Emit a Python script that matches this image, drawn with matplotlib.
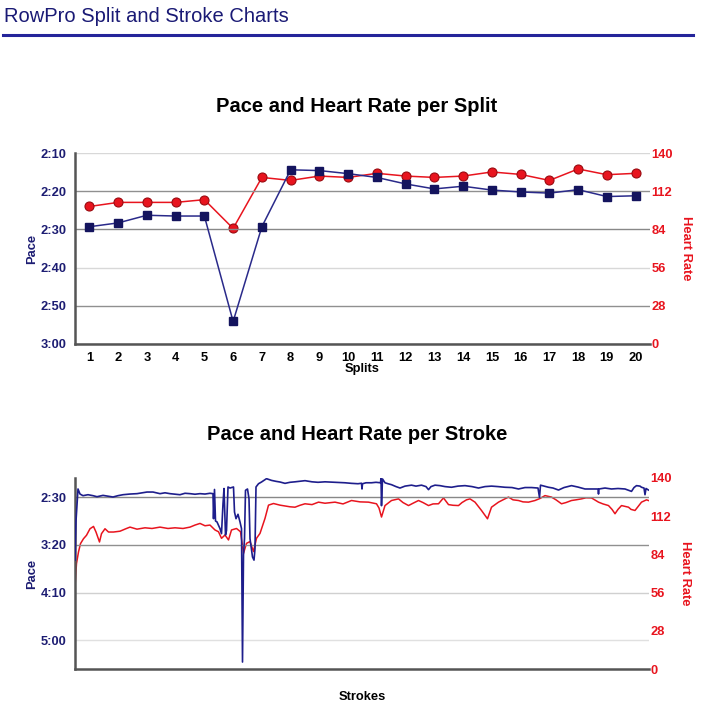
import matplotlib
matplotlib.use("Agg")
import matplotlib.pyplot as plt
from matplotlib.lines import Line2D

plt.rcParams['font.family'] = ['Liberation Sans', 'DejaVu Sans']

NAVY = '#1c1c72'
RED = '#e8141e'
HEAD = '#1a1a75'

# ---------------- data: splits ----------------
splits = list(range(1, 21))
split_pace = [149.3, 148.3, 146.3, 146.5, 146.5, 174.1, 149.3, 134.4, 134.6, 135.4,
              136.4, 138.1, 139.4, 138.7, 139.7, 140.2, 140.5, 139.6, 141.4, 141.2]
split_hr = [100.8, 103.8, 103.8, 103.8, 105.8, 84.7, 122.1, 119.9, 123.1, 122.1,
            125.1, 123.1, 122.1, 123.1, 126.1, 124.3, 119.9, 128.3, 124.1, 125.1]
split_pace_ticks = [130, 140, 150, 160, 170, 180]
split_pace_labels = ['2:10', '2:20', '2:30', '2:40', '2:50', '3:00']
hr_ticks = [0, 28, 56, 84, 112, 140]

# ---------------- data: strokes ----------------
stroke_pace_x = [0, 2, 6, 10, 16, 26, 36, 44, 56, 66, 76, 86, 96, 110, 124, 134, 144, 156, 170, 180,
                 190, 200, 210, 220, 230, 240, 250, 260, 270, 276, 277, 279, 281, 284, 290, 293, 296, 298,
                 301, 303, 306, 310, 317, 319, 322, 326, 330, 333, 335, 337, 339, 341, 345, 348, 350, 355,
                 358, 360, 362, 367, 373, 383, 393, 402, 410, 420, 430, 440, 460, 474, 486, 500, 520, 540,
                 553, 566, 573, 574, 575, 582, 593, 602, 611, 612, 613, 615, 620, 626, 633, 642, 650, 660,
                 673, 682, 693, 702, 707, 712, 720, 730, 740, 753, 766, 780, 794, 807, 820, 833, 846, 860,
                 874, 887, 900, 913, 926, 929, 931, 938, 947, 956, 967, 978, 993, 1006, 1020, 1034, 1046,
                 1047, 1048, 1060, 1073, 1086, 1100, 1113, 1118, 1123, 1130, 1133, 1138, 1140, 1142, 1147]
stroke_pace = [216, 175, 141.5, 146.8, 148.5, 147.5, 148.5, 149.6, 148.2, 149, 149.9, 148.5, 147.5, 146.8,
               146.4, 145.5, 144.7, 144.7, 146.4, 145.5, 146.4, 147, 147.5, 146, 146.4, 147, 146.4, 146.8,
               146, 146.4, 172.6, 142, 175, 176, 183, 188.3, 157, 141, 189.7, 185, 139.4, 140.5, 139.4,
               165.6, 172.6, 168, 176, 183, 322.7, 210.6, 193.5, 142.9, 141.5, 151.7, 193.5, 212.7, 216,
               204, 139.4, 136, 134.2, 130.7, 132.5, 133.5, 134.2, 135.6, 134.5, 134, 132.8, 134, 134.5,
               134, 134.5, 135, 135.6, 136, 135.5, 141.5, 136, 135, 135, 134.5, 135, 130, 159, 131, 135,
               136, 137, 139, 140.5, 138.5, 137.5, 138.5, 137.5, 139, 142.2, 139, 137.5, 138, 139, 139.7,
               138.5, 138, 139, 140.5, 139, 138.5, 139, 139.7, 140, 141.5, 140, 140, 140.5, 150.3, 137.5,
               138.5, 139.7, 140.5, 142.6, 140, 138, 139.5, 141.5, 141.5, 141.5, 146.8, 141.5, 140.5,
               141.5, 141, 141.5, 144, 140, 138, 138.5, 139.7, 140.5, 147.5, 141, 142.6]
stroke_hr_x = [0, 3, 7, 11, 17, 23, 30, 37, 42, 49, 53, 60, 67, 77, 90, 103, 110, 124, 140, 154, 170,
               186, 200, 216, 230, 240, 250, 260, 270, 280, 287, 293, 300, 307, 313, 323, 331, 337, 343,
               350, 357, 363, 370, 380, 387, 397, 410, 420, 430, 440, 450, 460, 474, 487, 500, 520, 536,
               553, 570, 587, 603, 608, 613, 620, 633, 647, 656, 667, 676, 687, 696, 707, 716, 727, 737,
               747, 756, 767, 774, 783, 790, 800, 813, 825, 833, 847, 856, 867, 876, 887, 896, 907, 920,
               930, 940, 953, 962, 973, 982, 993, 1002, 1013, 1022, 1033, 1047, 1056, 1067, 1074, 1080,
               1086, 1093, 1107, 1112, 1120, 1126, 1133, 1143, 1147]
stroke_hr = [60.3, 77.3, 85.8, 91.9, 95.5, 98, 102.8, 104.5, 100.4, 93.1, 99.2, 102.8, 100.4, 100.4, 101,
             103, 104, 102.5, 103.5, 103, 104, 103, 103.5, 103, 104, 105.5, 106.7, 105, 105.5, 101.9,
             100.6, 95.8, 98.2, 94.6, 101.9, 103, 100.6, 84.8, 92.1, 93.4, 86.1, 95.8, 99.4, 110.4,
             120.1, 121.3, 120.1, 119.5, 118.9, 118.6, 120, 121.1, 120.5, 122.3, 121.5, 122.3, 121,
             123.5, 122.5, 122.3, 121.1, 118, 111.4, 119.8, 123.5, 124.7, 122, 119.8, 121.5, 123.5, 122,
             119.8, 121, 121.1, 125.4, 120.5, 120, 119.8, 122, 124, 124.7, 122.3, 116.2, 110.1, 118.6,
             122.3, 124, 126, 124, 123.5, 122.5, 122.3, 123.5, 125, 127.1, 126, 124, 121.1, 122, 123.5,
             124, 124.7, 125.5, 125.4, 122.3, 121, 119.8, 117, 113.8, 117, 119.8, 118.6, 117, 116.2, 119,
             122.3, 124, 123.5]
stroke_pace_ticks = [150, 200, 250, 300]
stroke_pace_labels = ['2:30', '3:20', '4:10', '5:00']

W, H = 709, 707
fig = plt.figure(figsize=(W / 100, H / 100), dpi=100)


def fx(px):
    return px / W


def fy(py):
    return 1 - py / H


# header
fig.text(fx(4), fy(16), 'RowPro Split and Stroke Charts', color=HEAD, fontsize=14.5,
         ha='left', va='center')
fig.add_artist(Line2D([fx(3), fx(693)], [fy(35), fy(35)], color='#24249a', lw=2.2))


def style_axes(ax, ax2, grid_colors):
    for s in ['top', 'right']:
        ax.spines[s].set_visible(False)
    for s in ['top', 'right', 'left', 'bottom']:
        ax2.spines[s].set_visible(False)
    ax.spines['left'].set_color('#555555')
    ax.spines['bottom'].set_color('#555555')
    ax.spines['left'].set_linewidth(1.8)
    ax.spines['bottom'].set_linewidth(1.8)
    ax.tick_params(axis='y', length=0, pad=6, labelcolor=NAVY, labelsize=9.3)
    ax2.tick_params(axis='y', length=0, pad=1, labelcolor=RED, labelsize=9.3)
    for lab in ax.get_yticklabels():
        lab.set_fontweight('bold')
    for lab in ax2.get_yticklabels():
        lab.set_fontweight('bold')
    ax.grid(axis='y', lw=1.0)
    for gl, c in zip(ax.get_ygridlines(), grid_colors):
        gl.set_color(c)
    ax.set_axisbelow(True)
    ax.set_zorder(ax2.get_zorder() + 1)
    ax.patch.set_visible(False)


# ---------------- top chart ----------------
ax1 = fig.add_axes([fx(75), fy(344), fx(650) - fx(75), fy(153) - fy(344)])
ax1b = ax1.twinx()
ax1b.plot(splits, split_hr, color=RED, lw=1.1, marker='o', ms=6.5,
          mfc=RED, mec='#9a0a10', mew=0.8, zorder=3)
ax1.plot(splits, split_pace, color='#2a2a8a', lw=1.1, marker='s', ms=6,
         mfc='#14145e', mec='#14145e', zorder=3)
ax1.set_xlim(0.5, 20.5)
ax1.set_ylim(180, 130)
ax1.set_yticks(split_pace_ticks)
ax1.set_yticklabels(split_pace_labels)
ax1b.set_ylim(0, 140)
ax1b.set_yticks(hr_ticks)
ax1.set_xticks(splits)
ax1.tick_params(axis='x', length=0, pad=6, labelsize=9.3)
for lab in ax1.get_xticklabels():
    lab.set_fontweight('bold')
style_axes(ax1, ax1b, ['#d8d8d8', '#909090', '#888888', '#d8d8d8', '#909090', '#909090'])
ax1.set_xlabel('Splits', fontsize=9.3, fontweight='bold', labelpad=-1)
ax1.set_ylabel('Pace', fontsize=9.3, fontweight='bold', color=NAVY, labelpad=2)
ax1b.set_ylabel('Heart Rate', fontsize=9.3, fontweight='bold', color=RED, rotation=270,
                labelpad=14)
fig.text(fx(357), fy(106), 'Pace and Heart Rate per Split', fontsize=14.5, fontweight='bold',
         ha='center', va='center')

# ---------------- bottom chart ----------------
ax2 = fig.add_axes([fx(75), fy(669), fx(649) - fx(75), fy(478) - fy(669)])
ax2b = ax2.twinx()
ax2b.plot(stroke_hr_x, stroke_hr, color=RED, lw=1.1, zorder=3)
ax2.plot(stroke_pace_x, stroke_pace, color='#1e1e8c', lw=1.2, zorder=3)
ax2.set_xlim(0, 1148)
ax2.set_ylim(330, 130)
ax2.set_yticks(stroke_pace_ticks)
ax2.set_yticklabels(stroke_pace_labels)
ax2b.set_ylim(0, 140)
ax2b.set_yticks(hr_ticks)
ax2.set_xticks([])
style_axes(ax2, ax2b, ['#888888', '#909090', '#d0d0d0', '#e0e0e0'])
ax2.set_xlabel('Strokes', fontsize=9.3, fontweight='bold', labelpad=16)
ax2.set_ylabel('Pace', fontsize=9.3, fontweight='bold', color=NAVY, labelpad=2)
ax2b.set_ylabel('Heart Rate', fontsize=9.3, fontweight='bold', color=RED, rotation=270,
                labelpad=14)
fig.text(fx(357), fy(434), 'Pace and Heart Rate per Stroke', fontsize=14.5, fontweight='bold',
         ha='center', va='center')

fig.savefig('out.png', dpi=100)
